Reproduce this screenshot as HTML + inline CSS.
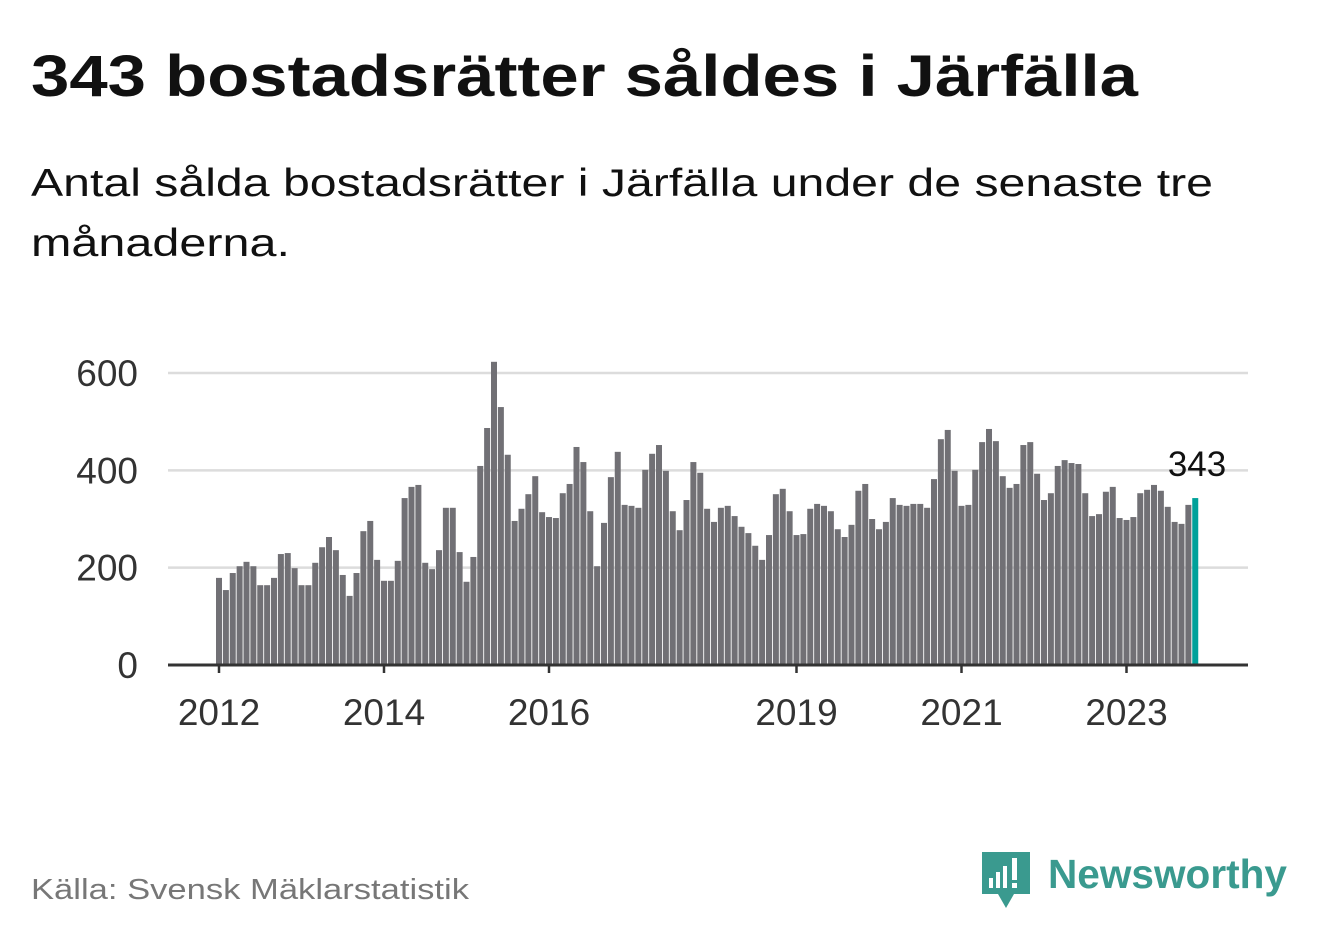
<!DOCTYPE html>
<html><head><meta charset="utf-8"><style>
body{margin:0;background:#fff}
svg{display:block;font-family:"Liberation Sans",sans-serif}
</style></head><body>
<svg id="chart" width="1322" height="939" viewBox="0 0 1322 939">
<text x="31" y="96" font-size="58" font-weight="bold" fill="#111" textLength="1107" lengthAdjust="spacingAndGlyphs">343 bostadsrätter såldes i Järfälla</text>
<text x="31" y="196" font-size="39" fill="#111" textLength="1182" lengthAdjust="spacingAndGlyphs">Antal sålda bostadsrätter i Järfälla under de senaste tre</text>
<text x="31" y="256" font-size="39" fill="#111" textLength="259" lengthAdjust="spacingAndGlyphs">månaderna.</text>
<g id="grid"></g><g id="bars"></g><g id="xaxis"></g>
<text x="31" y="899" font-size="29" fill="#777" textLength="438" lengthAdjust="spacingAndGlyphs">Källa: Svensk Mäklarstatistik</text>
<g>
<path d="M982 852 h48 v42 h-16 l-8 14 l-8 -14 h-16 z" fill="#3a9a8f"/>
<rect x="989" y="878" width="4" height="10" fill="#fff"/><rect x="996" y="872" width="4" height="16" fill="#fff"/><rect x="1003" y="866" width="4" height="22" fill="#fff"/><rect x="1012" y="858" width="5" height="22" fill="#fff"/><rect x="1012" y="883" width="5" height="5" fill="#fff"/>
<text x="1048" y="888" font-size="41" font-weight="bold" fill="#3a9a8f" textLength="239" lengthAdjust="spacingAndGlyphs">Newsworthy</text>
</g>
</svg>
<script>
const values=[179,154,189,203,212,203,164,164,179,228,230,199,164,164,210,242,263,236,185,142,189,275,296,216,173,173,214,343,366,370,210,197,236,323,323,232,171,222,409,487,623,530,432,296,321,351,388,314,304,302,353,372,448,417,316,203,292,386,438,329,327,323,401,434,452,399,316,277,339,417,395,321,294,323,327,306,284,271,245,216,267,351,362,316,267,269,321,331,327,316,279,263,288,358,372,300,279,294,343,329,327,331,331,323,382,464,483,399,327,329,401,458,485,460,388,364,372,452,458,393,339,353,409,421,415,413,353,306,310,356,366,302,298,304,353,360,370,358,325,294,290,329,343];
const yTicks=[0,200,400,600];
const xTickLabels=["2012","2014","2016","2019","2021","2023"];
const xTickIndex=[0,24,48,84,108,132];
const NS="http://www.w3.org/2000/svg";
const x0=219,step=6.875,y0=665,ky=292/600;
const X=i=>x0+i*step, Y=v=>y0-v*ky;
function mk(tag,attrs,parent){const e=document.createElementNS(NS,tag);for(const k in attrs)e.setAttribute(k,attrs[k]);parent.appendChild(e);return e;}
const grid=document.getElementById('grid'),bars=document.getElementById('bars'),xa=document.getElementById('xaxis');
yTicks.forEach(t=>{
 if(t>0){const l=mk('line',{x1:168,x2:1248,y1:Y(t),y2:Y(t),stroke:'#dcdcdc','stroke-width':2.5},grid);
 
 }
 const tx=mk('text',{x:138,y:Y(t)+13,'font-size':37,fill:'#333','text-anchor':'end'},grid);tx.textContent=t;
 
 
});
values.forEach((v,i)=>{
 const last=i===values.length-1;
 const r=mk('rect',{x:X(i)-3,y:Y(v),width:6,height:v*ky,fill:last?'#00a19a':'#717075'},bars);
 
 
 if(last){const t=mk('text',{x:X(i)+31,y:Y(v)-22,'font-size':35,fill:'#111','text-anchor':'end'},bars);t.textContent=v;
 
 }
});
const ax=mk('line',{x1:168,x2:1248,y1:y0,y2:y0,stroke:'#333','stroke-width':3},xa);


xTickLabels.forEach((lab,j)=>{
 const x=X(xTickIndex[j]);
 const tk=mk('line',{x1:x,x2:x,y1:y0,y2:y0+8,stroke:'#333','stroke-width':2.5},xa);
 
 
 const t=mk('text',{x:x,y:725,'font-size':37,fill:'#333','text-anchor':'middle'},xa);t.textContent=lab;
 
 
});
</script>
</body></html>
